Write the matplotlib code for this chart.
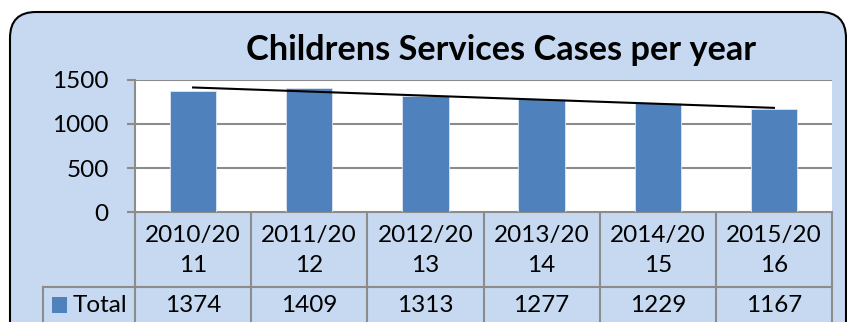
import numpy as np
import matplotlib
matplotlib.use("Agg")
import matplotlib.pyplot as plt
from matplotlib.patches import FancyBboxPatch, Rectangle

# ---- data ----
categories = ["2010/2011", "2011/2012", "2012/2013", "2013/2014", "2014/2015", "2015/2016"]
totals = [1374, 1409, 1313, 1277, 1229, 1167]
series_name = "Total"
title = "Childrens Services Cases per year"
y_ticks = [0, 500, 1000, 1500]

W, H = 847, 322
BG = "#C6D9F1"
BAR = "#4F81BD"
GRID = "#8C8C8C"
FONT = "Lato"
FS = 17.5

plt.rcParams['font.family'] = [FONT, 'DejaVu Sans']

fig = plt.figure(figsize=(W / 100, H / 100), dpi=100)
fig.patch.set_facecolor("white")

# background axes in pixel coordinates
bg = fig.add_axes([0, 0, 1, 1], zorder=0)
bg.set_xlim(0, W)
bg.set_ylim(H, 0)
bg.axis("off")
bg.add_patch(FancyBboxPatch((10, 12), 836, 360, boxstyle="round,pad=0,rounding_size=26",
                            facecolor=BG, edgecolor="black", linewidth=1.5))

# plot area geometry (pixels)
L, R, T, B = 135, 832, 79.5, 212.3
ax = fig.add_axes([L / W, 1 - B / H, (R - L) / W, (B - T) / H], zorder=1)
ax.set_facecolor("white")
x = np.arange(len(categories))
ax.bar(x, totals, width=0.4, color=BAR, edgecolor="#DCE6F2", linewidth=0.6, zorder=3)
coef = np.polyfit(x, totals, 1)
ax.plot(x, np.polyval(coef, x), color="black", linewidth=1.5, zorder=4)
ax.set_xlim(-0.5, len(categories) - 0.5)
ax.set_ylim(0, 1500)
ax.set_yticks(y_ticks)
ax.set_yticklabels([str(v) for v in y_ticks], fontsize=FS)
ax.set_xticks([])
ax.grid(axis="y", color=GRID, linewidth=1.5, zorder=1)
ax.tick_params(axis="y", length=6, width=1.5, color=GRID, pad=13)
for s in ["top", "right", "bottom"]:
    ax.spines[s].set_visible(False)
ax.spines["left"].set_color(GRID)
ax.spines["left"].set_linewidth(1.5)

# title
bg.text(501, 60, title, ha="center", va="baseline", fontsize=24.7, fontweight="bold", color="black")

# data table
n = len(categories)
cw = (R - L) / n
row1_bottom = 287
lc = GRID
lw = 1.5
bg.plot([43, R], [row1_bottom, row1_bottom], color=lc, linewidth=lw)
bg.plot([43, 43], [row1_bottom, H + 5], color=lc, linewidth=lw)
for k in range(n + 1):
    xx = L + k * cw
    bg.plot([xx, xx], [B, H + 5], color=lc, linewidth=lw)
bg.plot([L, R], [B, B], color=lc, linewidth=lw)
for k, (c, v) in enumerate(zip(categories, totals)):
    cx = L + (k + 0.5) * cw
    bg.text(cx, 235, c[:7], ha="center", va="center", fontsize=FS)
    bg.text(cx, 265, c[7:], ha="center", va="center", fontsize=FS)
    bg.text(cx, 305, str(v), ha="center", va="center", fontsize=FS)
bg.add_patch(Rectangle((52, 297), 15, 16, facecolor=BAR, edgecolor="none"))
bg.text(73, 305, series_name, ha="left", va="center", fontsize=FS)

fig.savefig("out.png", dpi=100)
